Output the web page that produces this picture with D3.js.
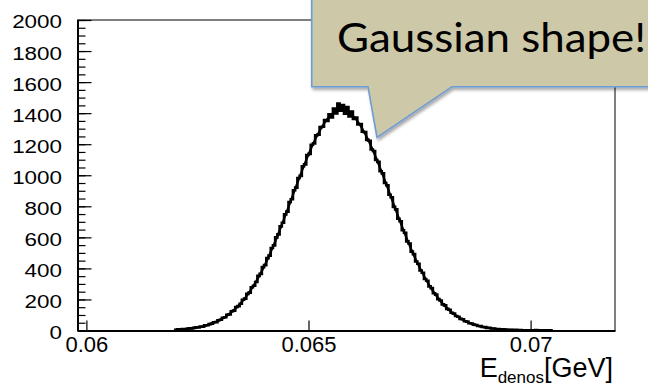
<!DOCTYPE html>
<html>
<head>
<meta charset="utf-8">
<script src="https://cdn.jsdelivr.net/npm/d3@7"></script>
<style>
  html, body { margin: 0; padding: 0; background: #ffffff; overflow: hidden; }
  svg { display: block; }
</style>
</head>
<body>
<svg id="chart" width="648" height="389"></svg>
<script>
// Deposited-energy histogram: fixed-width bins starting at binStart
const binStart = 0.0620;
const binWidth = 0.00005;
const counts = [
  4, 7, 6, 10, 8, 11, 14, 13, 17, 20,
  19, 26, 25, 33, 34, 41, 44, 53, 54, 66,
  69, 82, 85, 101, 104, 124, 128, 151, 157, 172,
  198, 205, 236, 244, 279, 288, 312, 352, 365, 408,
  421, 466, 482, 531, 548, 600, 619, 671, 694, 748,
  766, 828, 845, 903, 920, 982, 996, 1058, 1070, 1130,
  1138, 1196, 1205, 1258, 1262, 1310, 1312, 1356, 1350, 1392,
  1372, 1430, 1398, 1462, 1415, 1452, 1396, 1440, 1378, 1410,
  1362, 1372, 1328, 1330, 1280, 1278, 1228, 1222, 1166, 1156,
  1098, 1086, 1026, 1012, 950, 936, 874, 858, 796, 780,
  720, 704, 646, 630, 574, 560, 508, 492, 444, 430,
  386, 372, 332, 320, 284, 273, 240, 231, 202, 193,
  168, 162, 139, 134, 114, 109, 93, 89, 75, 72,
  60, 57, 47, 45, 38, 35, 29, 28, 23, 22,
  17, 17, 13, 13, 10, 9, 8, 7, 6, 5,
  4, 4, 3, 4, 2, 3, 2, 1, 1, 2,
  1, 1, 3, 0, 1, 0, 2, 0, 1, 0
];

// Gaussian fit parameters (constant, mean, sigma)
const fitConstant = 1420;
const fitMean = 0.065745;
const fitSigma = 0.00111;

// Axis ranges and labels
const xDomain = [0.0598, 0.0719];
const yDomain = [0, 2000];
const xTickValues = [0.06, 0.065, 0.07];
const xTickLabels = ["0.06", "0.065", "0.07"];
const yTickValues = [0, 200, 400, 600, 800, 1000, 1200, 1400, 1600, 1800, 2000];
const yTickLabels = ["0", "200", "400", "600", "800", "1000", "1200", "1400", "1600", "1800", "2000"];
const yMinorStep = 50;

const axisTitleMain = "E";
const axisTitleSub = "denos";
const axisTitleUnit = "[GeV]";
const calloutText = "Gaussian shape!";

// Frame geometry
const frame = { left: 77.5, right: 615, top: 20, bottom: 330.5 };
const svg = d3.select("#chart");

const x = d3.scaleLinear().domain(xDomain).range([frame.left, frame.right]);
const y = d3.scaleLinear().domain(yDomain).range([frame.bottom, frame.top]);

const font = "'Liberation Sans', Arial, Helvetica, sans-serif";

// Frame box
svg.append("rect")
  .attr("x", frame.left).attr("y", frame.top)
  .attr("width", frame.right - frame.left)
  .attr("height", frame.bottom - frame.top)
  .attr("fill", "none").attr("stroke", "#000").attr("stroke-width", 1);

// Histogram outline (step)
const bins = counts.map((c, i) => ({ x0: binStart + i * binWidth, x1: binStart + (i + 1) * binWidth, c }));
const stepPts = [];
stepPts.push([bins[0].x0, 0]);
bins.forEach(b => { stepPts.push([b.x0, b.c]); stepPts.push([b.x1, b.c]); });
stepPts.push([bins[bins.length - 1].x1, 0]);
const stepLine = d3.line().x(d => x(d[0])).y(d => y(d[1]));
svg.append("path")
  .attr("d", stepLine(stepPts))
  .attr("fill", "none").attr("stroke", "#000").attr("stroke-width", 2.6)
  .attr("stroke-linejoin", "miter");

// Gaussian fit curve drawn from its fitted parameters over the filled range
const fitFn = v => fitConstant * Math.exp(-0.5 * Math.pow((v - fitMean) / fitSigma, 2));
const fitXs = d3.range(binStart, bins[bins.length - 1].x1, binWidth / 2);
svg.append("path")
  .attr("d", d3.line().x(v => x(v)).y(v => y(fitFn(v)))(fitXs))
  .attr("fill", "none").attr("stroke", "#000").attr("stroke-width", 2.2);

// X axis: major ticks pointing into the frame, labels below
const xAxis = d3.axisBottom(x)
  .tickValues(xTickValues)
  .tickFormat((d, i) => xTickLabels[i])
  .tickSizeInner(-10).tickSizeOuter(0).tickPadding(6);
const gx = svg.append("g").attr("transform", `translate(0,${frame.bottom})`).call(xAxis);
gx.select(".domain").attr("stroke-width", 2);
gx.selectAll(".tick line").attr("stroke-width", 1.2);
gx.selectAll("text").attr("font-family", font).attr("font-size", 22).attr("fill", "#000");

// Y axis: minor ticks every 50, major every 200
const yMinor = d3.axisLeft(y)
  .tickValues(d3.range(yDomain[0], yDomain[1] + 1, yMinorStep))
  .tickFormat("").tickSizeInner(-8).tickSizeOuter(0);
const gyMinor = svg.append("g").attr("transform", `translate(${frame.left},0)`).call(yMinor);
gyMinor.select(".domain").remove();
gyMinor.selectAll(".tick line").attr("stroke-width", 1.2);

const yAxis = d3.axisLeft(y)
  .tickValues(yTickValues)
  .tickFormat((d, i) => yTickLabels[i])
  .tickSizeInner(-14).tickSizeOuter(0);
const gy = svg.append("g").attr("transform", `translate(${frame.left},0)`).call(yAxis);
gy.select(".domain").attr("stroke-width", 2);
gy.selectAll(".tick line").attr("stroke-width", 1.2);
// Tick labels are set a little wide, as in the ROOT canvas
gy.selectAll("text")
  .attr("x", null)
  .attr("transform", "translate(-15.5,0) scale(1.18,1)")
  .attr("font-family", font).attr("font-size", 19).attr("fill", "#000")
  .attr("dy", "0.42em");

// X axis title with subscript
const title = svg.append("text")
  .attr("x", 613).attr("y", 377)
  .attr("text-anchor", "end")
  .attr("font-family", font).attr("font-size", 27).attr("fill", "#000");
title.append("tspan").text(axisTitleMain);
title.append("tspan").attr("font-size", 17).attr("dy", 5.5).text(axisTitleSub);
title.append("tspan").attr("dy", -5.5).text(axisTitleUnit);

// Speech-bubble callout
const defs = svg.append("defs");
const shadow = defs.append("filter").attr("id", "calloutShadow")
  .attr("x", "-10%").attr("y", "-10%").attr("width", "130%").attr("height", "140%");
shadow.append("feDropShadow")
  .attr("dx", 1.5).attr("dy", 2.5).attr("stdDeviation", 1.5)
  .attr("flood-color", "#000").attr("flood-opacity", 0.35);

const bubble = [
  [311.7, -5], [311.7, 86.7], [368, 86.7], [377, 137.5],
  [452, 86.7], [660, 86.7], [660, -5]
];
svg.append("path")
  .attr("d", d3.line()(bubble) + "Z")
  .attr("fill", "#CDC8A7")
  .attr("stroke", "#6D9BD3").attr("stroke-width", 1.6)
  .attr("stroke-linejoin", "miter")
  .attr("filter", "url(#calloutShadow)");

svg.append("text")
  .attr("x", 337).attr("y", 52)
  .attr("font-family", "Lato, 'Open Sans', sans-serif")
  .attr("font-size", 40).attr("fill", "#000")
  .attr("textLength", 309).attr("lengthAdjust", "spacingAndGlyphs")
  .text(calloutText);
</script>
</body>
</html>
